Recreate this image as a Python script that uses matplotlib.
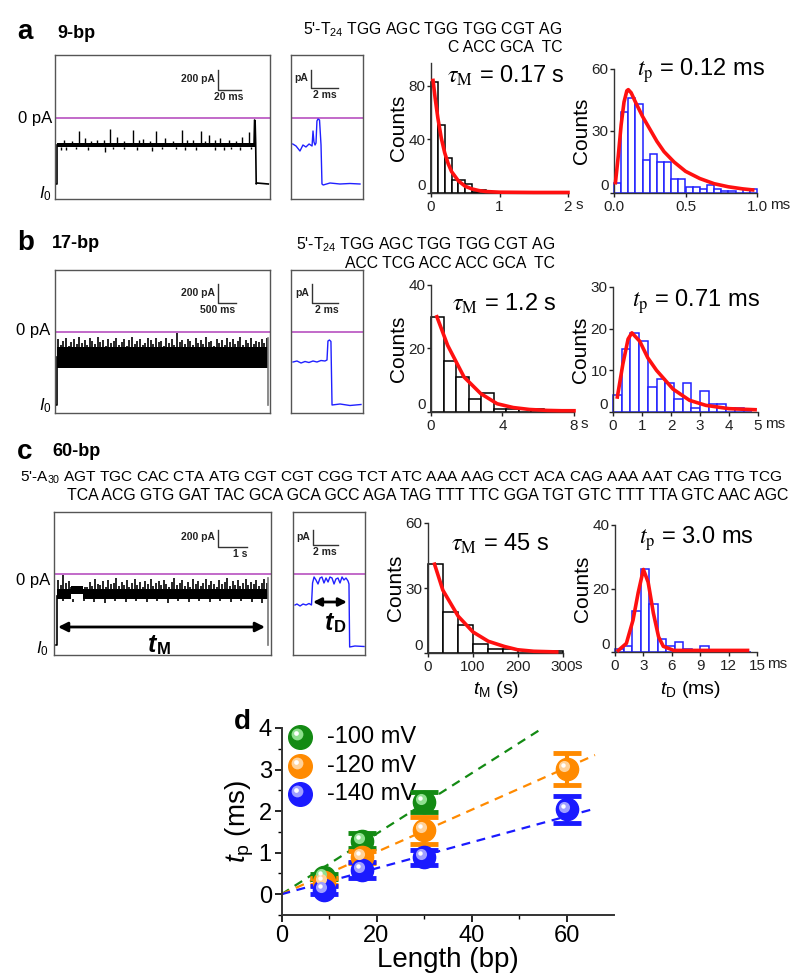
import numpy as np
import matplotlib.pyplot as plt
from matplotlib.lines import Line2D
from matplotlib import transforms

plt.rcParams['font.family'] = ['Liberation Sans', 'DejaVu Sans']
plt.rcParams['mathtext.fontset'] = 'custom'
plt.rcParams['mathtext.rm'] = 'Liberation Sans'
plt.rcParams['mathtext.it'] = 'Liberation Sans:italic'
plt.rcParams['mathtext.bf'] = 'Liberation Sans:bold'

W, H = 800, 975
MAG = '#b850c0'
FIT = '#ff1010'
BLUE = '#2020ff'

# ---------------- sequences ----------------
a_seq_top = "5'-T$_{24}$ TGG AGC TGG TGG CGT AG"
a_seq_bot = "C ACC GCA  TC"
b_seq_top = "5'-T$_{24}$ TGG AGC TGG TGG CGT AG"
b_seq_bot = "ACC TCG ACC ACC GCA  TC"
c_seq_top = ("5'-A$_{30}$ AGT TGC CAC CTA ATG CGT CGT CGG TCT ATC AAA AAG "
             "CCT ACA CAG AAA AAT CAG TTG TCG")
c_seq_bot = ("TCA ACG GTG GAT TAC GCA GCA GCC AGA TAG TTT TTC GGA TGT GTC "
             "TTT TTA GTC AAC AGC")

# ---------------- current traces (ms, pA) ----------------
# a, 9-bp, long trace
a1_block = [1.8, 182.0]
a1_band = [-290, -252]
a1_spike_t = [8, 15, 22, 27, 33, 38, 44, 50, 56, 63, 71, 76, 80, 86, 92, 100, 107, 115, 120,
              125, 132, 136, 140, 145, 150, 158, 164, 170, 176]
a1_spike_i = [-215, -225, -130, -200, -230, -220, -215, -110, -190, -225, -120, -220, -210,
              -230, -130, -200, -225, -120, -220, -215, -130, -225, -170, -220, -200, -220,
              -230, -190, -140]
a1_dip_t = [5, 10, 19, 30, 45, 53, 63, 74, 88, 97, 110, 118, 128, 145, 153, 160, 168, 178]
a1_dip_i = [-315, -320, -310, -320, -335, -312, -310, -318, -330, -314, -312, -320, -316,
            -315, -322, -310, -318, -314]
a1_head_t = [1.0, 1.8, 1.8]
a1_head_i = [-655, -655, -270]
a1_tail_t = [180.5, 181.0, 181.5, 182.0, 182.5, 183.0, 193.5]
a1_tail_i = [-270, -20, -30, -250, -660, -650, -660]
# a, zoomed event
a2_t = [0.13, 0.37, 0.66, 0.88, 1.10, 1.33, 1.55, 1.62, 1.69, 1.77, 1.84, 1.91, 1.99, 2.10,
        2.21, 2.28, 2.37, 2.87, 3.60, 4.34, 5.08]
a2_i = [-260, -280, -330, -270, -290, -260, -280, -130, -240, -270, -250, -30, -10, -20,
        -270, -660, -670, -650, -660, -655, -660]

# b, 17-bp
b1_block = [56, 5944]
b1_band = [-365, -150]
b1_spike_top = [-70, -130, -90, -60, -140, -100, -75, -120, -55, -110, -85, -135, -65, -95,
                -125, -50, -105, -80, -140, -70, -115, -90, -60, -130, -100, -75, -145, -85,
                -55, -120, -95, -70, -135, -110, -65, -80, -125, -60, -100, -90, -140, -65,
                -115, -75, -130, -15, -105, -85, -120, -70, -95, -135, -60, -110, -80, -125,
                -55, -100, -90, -140, -70, -115, -85, -130, -60, -105, -75, -120, -95, -50,
                -135, -80, -110, -65, -125, -90, -100, -70, -115, -60]
b1_head_t = [30, 56, 56]
b1_head_i = [-730, -730, -250]
b1_tail_t = [5944, 5944]
b1_tail_i = [-60, -730]
b2_t = [0.15, 0.44, 0.74, 1.03, 1.32, 1.62, 1.91, 2.21, 2.50, 2.65, 2.72, 2.83, 2.94, 3.02,
        3.61, 4.34, 5.15]
b2_i = [-300, -290, -310, -295, -305, -290, -300, -285, -290, -280, -90, -80, -95, -730,
        -720, -735, -725]

# c, 60-bp
c1_band_t = [107, 600, 600, 1050, 1050, 7643]
c1_band_lo = [-255, -255, -200, -200, -255, -255]
c1_band_hi = [-150, -150, -125, -125, -150, -150]
c1_spike_top = [-60, -110, -10, -90, -70, -125, -125, -125, -125, -125, -125, -125, -80,
                -120, -50, -95, -110, -70, -130, -60, -100, -85, -40, -115, -75, -105, -60,
                -125, -90, -50, -110, -80, -130, -65, -100, -45, -120, -85, -70, -110, -55,
                -95, -125, -75, -40, -105, -90, -60, -115, -80, -130, -50, -100, -70, -120,
                -85, -45, -110, -65, -95, -125, -55, -100, -80, -35, -115, -70, -105, -60,
                -120, -90, -50, -110, -75, -100, -60, -120, -85, -45, -90]
c1_dip = [-270, -280, -265, -275, -285, -270, -280, -265, -275, -270, -285, -270, -280, -265,
          -275, -270, -280, -265, -275, -285]
c1_head_t = [80, 107, 107]
c1_head_i = [-710, -710, -220]
c1_tail_t = [7643, 7643]
c1_tail_i = [-40, -710]
c_tm_arrow = [143, 7536, -530]
c2_t = [0.15, 0.29, 0.52, 0.74, 0.96, 1.18, 1.36, 1.44, 1.55, 1.69, 1.84, 1.99, 2.13, 2.28,
        2.43, 2.58, 2.72, 2.87, 3.02, 3.16, 3.31, 3.46, 3.61, 3.75, 3.90, 4.05, 4.12, 4.17,
        4.56, 5.23]
c2_i = [-310, -300, -320, -300, -310, -295, -310, -90, -30, -60, -100, -40, -30, -90, -40,
        -80, -30, -40, -100, -50, -40, -90, -30, -60, -40, -70, -100, -730, -720, -725]
c_td_arrow = [1.47, 3.97, -280]

# ---------------- dwell time histograms ----------------
a_tm_bin = 0.1
a_tm_counts = [83, 51, 26, 10, 10, 7, 1, 2, 1, 1]
a_tm_fit_x = [0.03, 0.06, 0.1, 0.15, 0.2, 0.25, 0.3, 0.4, 0.5, 0.6, 0.7, 0.8, 1.0, 1.5, 2.0]
a_tm_fit_y = [84, 71, 56, 41, 30, 22, 16, 9, 5, 3, 1.8, 1.1, 0.6, 0.4, 0.4]
a_tp_bin = 0.05
a_tp_counts = [5, 39, 46, 43, 16, 19, 15, 15, 7, 7, 3, 3, 2, 4, 2, 1, 1, 0, 2, 2]
a_tp_fit_x = [0.01, 0.03, 0.05, 0.07, 0.09, 0.1, 0.12, 0.15, 0.2, 0.25, 0.3, 0.35, 0.42,
              0.5, 0.6, 0.7, 0.8, 0.9, 0.97]
a_tp_fit_y = [5, 18, 33, 44, 49.5, 50, 48.5, 44, 37, 31, 25, 20, 15, 10.5, 7, 4.5, 3, 2, 1.5]

b_tm_bin = 0.7
b_tm_counts = [30, 16, 11, 4, 6, 1, 1, 1, 1]
b_tm_fit_x = [0.33, 0.93, 1.85, 2.78, 3.7, 4.6, 5.5, 6.5, 7.3, 8.0]
b_tm_fit_y = [30, 21, 11, 5.8, 2.6, 1.4, 0.8, 0.5, 0.4, 0.4]
b_tp_bin = 0.3
b_tp_counts = [4, 15, 19, 17, 6, 8, 7, 3, 7, 1, 5, 2, 2, 1, 1, 0]
b_tp_fit_x = [0.15, 0.34, 0.52, 0.65, 0.92, 1.2, 1.5, 2.07, 2.64, 3.2, 4.0, 4.9]
b_tp_fit_y = [3.6, 11.5, 17.5, 19, 17, 13, 10, 5.5, 2.8, 1.6, 0.8, 0.55]

c_tm_bin = 33.3
c_tm_counts = [41, 19, 13, 4, 2, 2, 0, 1, 1]
c_tm_fit_x = [14.5, 33, 67, 100, 134, 170, 199, 235, 286]
c_tm_fit_y = [41, 29, 17, 9.7, 5.4, 3, 1.5, 0.8, 0.5]
c_tp_bin = 0.9
c_tp_counts = [1, 2, 13, 26, 15, 4, 2, 3, 1, 0, 2, 0, 0, 0, 0, 0]
c_tp_fit_x = [0.35, 1.2, 1.9, 2.45, 3.0, 3.5, 4.05, 4.6, 5.1, 6.2, 10.0, 14.0]
c_tp_fit_y = [0.5, 2.7, 10, 18.7, 26, 22, 12.3, 4.8, 1.8, 0.5, 0.5, 0.5]

# ---------------- panel d ----------------
lengths = [9, 17, 30, 60]
tp_100 = [0.42, 1.29, 2.22]
err_100 = [0.06, 0.18, 0.24]
tp_120 = [0.30, 0.90, 1.54, 3.02]
err_120 = [0.08, 0.14, 0.32, 0.38]
tp_140 = [0.10, 0.58, 0.89, 2.04]
err_140 = [0.10, 0.20, 0.18, 0.32]
fit_x_100, fit_y_100 = [0, 55], [0, 4.0]
fit_x_120, fit_y_120 = [0, 66], [0, 3.35]
fit_x_140, fit_y_140 = [0, 66], [0, 2.06]
volt_labels = ['-100 mV', '-120 mV', '-140 mV']

fig = plt.figure(figsize=(8, 9.75), dpi=100)


def px_rect(x0, y0, x1, y1):
    return [x0 / W, 1 - y1 / H, (x1 - x0) / W, (y1 - y0) / H]


def ftext(x, y, s, **kw):
    kw.setdefault('va', 'center')
    fig.text(x / W, 1 - y / H, s, **kw)


def fline(xs, ys, **kw):
    fig.add_artist(Line2D([x / W for x in xs], [1 - y / H for y in ys],
                          transform=fig.transFigure, **kw))


def trace_axes(rect, xmax, ylim):
    ax = fig.add_axes(px_rect(*rect))
    ax.set_xlim(0, xmax)
    ax.set_ylim(*ylim)
    ax.set_xticks([])
    ax.set_yticks([])
    for s in ax.spines.values():
        s.set_color('#555555')
        s.set_linewidth(1)
    ax.axhline(0, color=MAG, lw=1.2)
    return ax


def scale_bar(x, y_top, y_bot, x_end, left_txt, bot_txt, bot_x):
    fline([x, x, x_end], [y_top, y_bot, y_bot], color='#333333', lw=1)
    ftext(x - 3, (y_top + y_bot) / 2 - 1, left_txt, ha='right', fontsize=7.5,
          fontweight='bold', color='#222222')
    ftext(bot_x, y_bot + 7, bot_txt, ha='center', fontsize=7.5, fontweight='bold',
          color='#222222')


def hist_axes(rect, bw, counts, ec, fx, fy, xlim, ylim, xticks, xtl, yticks, unit, unit_x):
    ax = fig.add_axes(px_rect(*rect))
    left = np.arange(len(counts)) * bw
    ax.bar(left, counts, width=bw, align='edge', facecolor='white', edgecolor=ec, lw=1.1,
           clip_on=False)
    ax.plot(fx, fy, color=FIT, lw=2.6, zorder=5, clip_on=False)
    ax.set_xlim(*xlim)
    ax.set_ylim(*ylim)
    ax.set_xticks(xticks)
    ax.set_xticklabels(xtl)
    ax.set_yticks(yticks)
    for s in ['top', 'right']:
        ax.spines[s].set_visible(False)
    for s in ['left', 'bottom']:
        ax.spines[s].set_color('#333333')
        ax.spines[s].set_linewidth(1)
    ax.tick_params(direction='out', length=3, width=1, labelsize=11, colors='#222222')
    ax.tick_params(axis='x', pad=2)
    ax.tick_params(axis='y', pad=1)
    for lab in ax.get_yticklabels():
        lab.set_verticalalignment('bottom' if lab.get_text() == '0' else 'center_baseline')
    ax.set_ylabel('Counts', fontsize=15, labelpad=0)
    ftext(unit_x, rect[3] + 12, unit, ha='left', fontsize=11, color='#222222')
    return ax


# ================= panel a =================
ftext(17, 32, 'a', fontsize=20, fontweight='bold')
ftext(57, 33, '9-bp', fontsize=13, fontweight='bold')
ftext(562, 30, a_seq_top, ha='right', fontsize=11.3)
ftext(562, 48, a_seq_bot, ha='right', fontsize=11.3)

ax = trace_axes((55, 55, 270, 199), 195, (-810, 630))
ax.fill_between(a1_block, a1_band[0], a1_band[1], color='k', lw=0)
ax.vlines(a1_spike_t, a1_band[1], a1_spike_i, color='k', lw=1)
ax.vlines(a1_dip_t, a1_dip_i, a1_band[0], color='k', lw=1)
ax.plot(a1_head_t, a1_head_i, color='k', lw=1.2)
ax.plot(a1_tail_t, a1_tail_i, color='k', lw=1.2)
ax = trace_axes((291, 55, 363, 199), 5.3, (-810, 630))
ax.plot(a2_t, a2_i, color=BLUE, lw=1)
ftext(52, 119, '0 pA', ha='right', fontsize=12)
ftext(45, 194, '$I_0$', ha='center', fontsize=12)
scale_bar(218, 70, 90, 241, '200 pA', '20 ms', 229)
scale_bar(311, 70, 88, 338, 'pA', '2 ms', 325)

hist_axes((431, 63, 568, 193), a_tm_bin, a_tm_counts, 'k', a_tm_fit_x, a_tm_fit_y,
          (0, 2), (0, 97), [0, 1, 2], ['0', '1', '2'], [0, 40, 80], 's', 576)
hist_axes((614, 69, 757, 193), a_tp_bin, a_tp_counts, BLUE, a_tp_fit_x, a_tp_fit_y,
          (0, 1.0), (0, 60), [0, 0.5, 1.0], ['0.0', '0.5', '1.0'], [0, 30, 60], 'ms', 770)
ftext(447, 76, r'$\tau_\mathrm{M}$ = 0.17 s', fontsize=17, math_fontfamily='stix')
ftext(637, 71, r'$t_\mathrm{p}$ = 0.12 ms', fontsize=17, math_fontfamily='stix')

# ================= panel b =================
ftext(17, 243, 'b', fontsize=20, fontweight='bold')
ftext(52, 243, '17-bp', fontsize=13, fontweight='bold')
ftext(555, 245, b_seq_top, ha='right', fontsize=11.3)
ftext(555, 263, b_seq_bot, ha='right', fontsize=11.3)

ax = trace_axes((55, 270, 270, 413), 6000, (-810, 620))
ax.fill_between(b1_block, b1_band[0], b1_band[1], color='k', lw=0)
b1_spike_t = np.linspace(b1_block[0] + 30, b1_block[1] - 30, len(b1_spike_top))
ax.vlines(b1_spike_t, b1_band[1], b1_spike_top, color='k', lw=1.2)
ax.plot(b1_head_t, b1_head_i, color='k', lw=1.2)
ax.plot(b1_tail_t, b1_tail_i, color='#777777', lw=1.2)
ax = trace_axes((291, 270, 363, 413), 5.3, (-810, 620))
ax.plot(b2_t, b2_i, color=BLUE, lw=1)
ftext(50, 331, '0 pA', ha='right', fontsize=12)
ftext(45, 406, '$I_0$', ha='center', fontsize=12)
scale_bar(218, 284, 303, 236, '200 pA', '500 ms', 218)
scale_bar(312, 284, 303, 338, 'pA', '2 ms', 327)

hist_axes((431, 285, 574, 412), b_tm_bin, b_tm_counts, 'k', b_tm_fit_x, b_tm_fit_y,
          (0, 8), (0, 40), [0, 4, 8], ['0', '4', '8'], [0, 20, 40], 's', 581)
hist_axes((613, 287, 758, 412), b_tp_bin, b_tp_counts, BLUE, b_tp_fit_x, b_tp_fit_y,
          (0, 5), (0, 30), [0, 1, 2, 3, 4, 5], ['0', '1', '2', '3', '4', '5'],
          [0, 10, 20, 30], 'ms', 765)
ftext(452, 304, r'$\tau_\mathrm{M}$ = 1.2 s', fontsize=17, math_fontfamily='stix')
ftext(632, 302, r'$t_\mathrm{p}$ = 0.71 ms', fontsize=17, math_fontfamily='stix')

# ================= panel c =================
ftext(17, 452, 'c', fontsize=20, fontweight='bold')
ftext(52, 452, '60-bp', fontsize=13, fontweight='bold')
ftext(20, 478, c_seq_top, ha='left', fontsize=11.1)
ftext(788, 496, c_seq_bot, ha='right', fontsize=11.4)

ax = trace_axes((54, 512, 271, 655), 7750, (-810, 620))
ax.fill_between(c1_band_t, c1_band_lo, c1_band_hi, color='k', lw=0)
c1_spike_t = np.linspace(c1_band_t[0] + 40, c1_band_t[-1] - 40, len(c1_spike_top))
ax.vlines(c1_spike_t, -150, c1_spike_top, color='k', lw=1.2)
c1_dip_t = np.linspace(c1_band_t[0] + 200, c1_band_t[-1] - 200, len(c1_dip))
ax.vlines(c1_dip_t, c1_dip, -250, color='k', lw=1.2)
ax.plot(c1_head_t, c1_head_i, color='k', lw=1.2)
ax.plot(c1_tail_t, c1_tail_i, color='#777777', lw=1.2)
ax.annotate('', xy=(c_tm_arrow[1], c_tm_arrow[2]), xytext=(c_tm_arrow[0], c_tm_arrow[2]),
            arrowprops=dict(arrowstyle='<|-|>', color='k', lw=2, mutation_scale=14,
                            shrinkA=0, shrinkB=0))
ax = trace_axes((293, 512, 365, 655), 5.3, (-810, 620))
ax.plot(c2_t, c2_i, color=BLUE, lw=1)
ax.annotate('', xy=(c_td_arrow[1], c_td_arrow[2]), xytext=(c_td_arrow[0], c_td_arrow[2]),
            arrowprops=dict(arrowstyle='<|-|>', color='k', lw=2, mutation_scale=12,
                            shrinkA=0, shrinkB=0))
ftext(50, 580, '0 pA', ha='right', fontsize=12)
ftext(42, 649, '$I_0$', ha='center', fontsize=12)
ftext(148, 645, 't', fontsize=18, fontweight='bold', style='italic')
ftext(157, 650, 'M', fontsize=12, fontweight='bold')
ftext(325, 623, 't', fontsize=18, fontweight='bold', style='italic')
ftext(334, 628, 'D', fontsize=12, fontweight='bold')
scale_bar(218, 530, 547, 247, '200 pA', '1 s', 240)
scale_bar(313, 530, 545, 338, 'pA', '2 ms', 325)

hist_axes((428, 523, 563, 653), c_tm_bin, c_tm_counts, 'k', c_tm_fit_x, c_tm_fit_y,
          (0, 300), (0, 60), [0, 100, 200, 300], ['0', '100', '200', '300'],
          [0, 30, 60], 's', 575)
hist_axes((615, 525, 757, 652), c_tp_bin, c_tp_counts, BLUE, c_tp_fit_x, c_tp_fit_y,
          (0, 15), (0, 40), [0, 3, 6, 9, 12, 15], ['0', '3', '6', '9', '12', '15'],
          [0, 20, 40], 'ms', 767)
ftext(451, 544, r'$\tau_\mathrm{M}$ = 45 s', fontsize=17, math_fontfamily='stix')
ftext(639, 539, r'$t_\mathrm{p}$ = 3.0 ms', fontsize=17, math_fontfamily='stix')
ftext(496, 690, r'$t_\mathrm{M}$ (s)', ha='center', fontsize=14)
ftext(690, 690, r'$t_\mathrm{D}$ (ms)', ha='center', fontsize=14)

# ================= panel d =================
ftext(234, 722, 'd', fontsize=20, fontweight='bold')
axd = fig.add_axes(px_rect(281.5, 728, 614, 915))
colors = ['#138a13', '#ff8a00', '#1a1aff']
lights = ['#8fe08f', '#ffd29a', '#a0a0ff']
series = [(lengths[:3], tp_100, err_100), (lengths, tp_120, err_120), (lengths, tp_140, err_140)]
fits = [(fit_x_100, fit_y_100), (fit_x_120, fit_y_120), (fit_x_140, fit_y_140)]

for (fx, fy), c in zip(fits, colors):
    axd.plot(fx, fy, ls=(0, (4, 3)), color=c, lw=1.6, zorder=2)


def sphere(ax, x, y, c, light, ms, tr):
    ax.plot(x, y, 'o', ms=ms, color=c, mec=c, zorder=6, transform=tr, clip_on=False)
    off = transforms.offset_copy(tr, fig=fig, x=-ms * 0.13, y=ms * 0.13, units='points')
    ax.plot(x, y, 'o', ms=ms * 0.5, color=light, mec='none', zorder=7, transform=off,
            clip_on=False)
    off2 = transforms.offset_copy(tr, fig=fig, x=-ms * 0.17, y=ms * 0.17, units='points')
    ax.plot(x, y, 'o', ms=ms * 0.2, color='white', mec='none', zorder=8, transform=off2,
            clip_on=False)


for (xs, ys, es), c, lc in zip(series, colors, lights):
    axd.errorbar(xs, ys, yerr=es, fmt='none', ecolor=c, elinewidth=3, capsize=10,
                 capthick=3.5, zorder=4)
    sphere(axd, xs, ys, c, lc, 16, axd.transData)

leg_y = [0.952, 0.797, 0.647]
for yy, c, lc, lab in zip(leg_y, colors, lights, volt_labels):
    sphere(axd, [0.056], [yy], c, lc, 17, axd.transAxes)
    axd.text(0.137, yy, lab, transform=axd.transAxes, fontsize=17, va='center')

axd.set_xlim(0, 70)
axd.set_ylim(-0.5, 4)
axd.set_xticks([0, 20, 40, 60])
axd.set_xticks([10, 30, 50], minor=True)
axd.set_yticks([0, 1, 2, 3, 4])
axd.set_yticks([-0.5, 0.5, 1.5, 2.5, 3.5], minor=True)
for s in ['top', 'right']:
    axd.spines[s].set_visible(False)
for s in ['left', 'bottom']:
    axd.spines[s].set_color('#333333')
    axd.spines[s].set_linewidth(1.4)
axd.tick_params(which='major', direction='out', length=5, width=1.2, labelsize=17, pad=2)
axd.tick_params(which='minor', direction='out', length=3, width=1)
axd.set_xlabel('Length (bp)', fontsize=20, labelpad=0)
axd.set_ylabel(r'$t_\mathrm{p}$ (ms)', fontsize=20, labelpad=2)

fig.savefig('out.png', dpi=100)
